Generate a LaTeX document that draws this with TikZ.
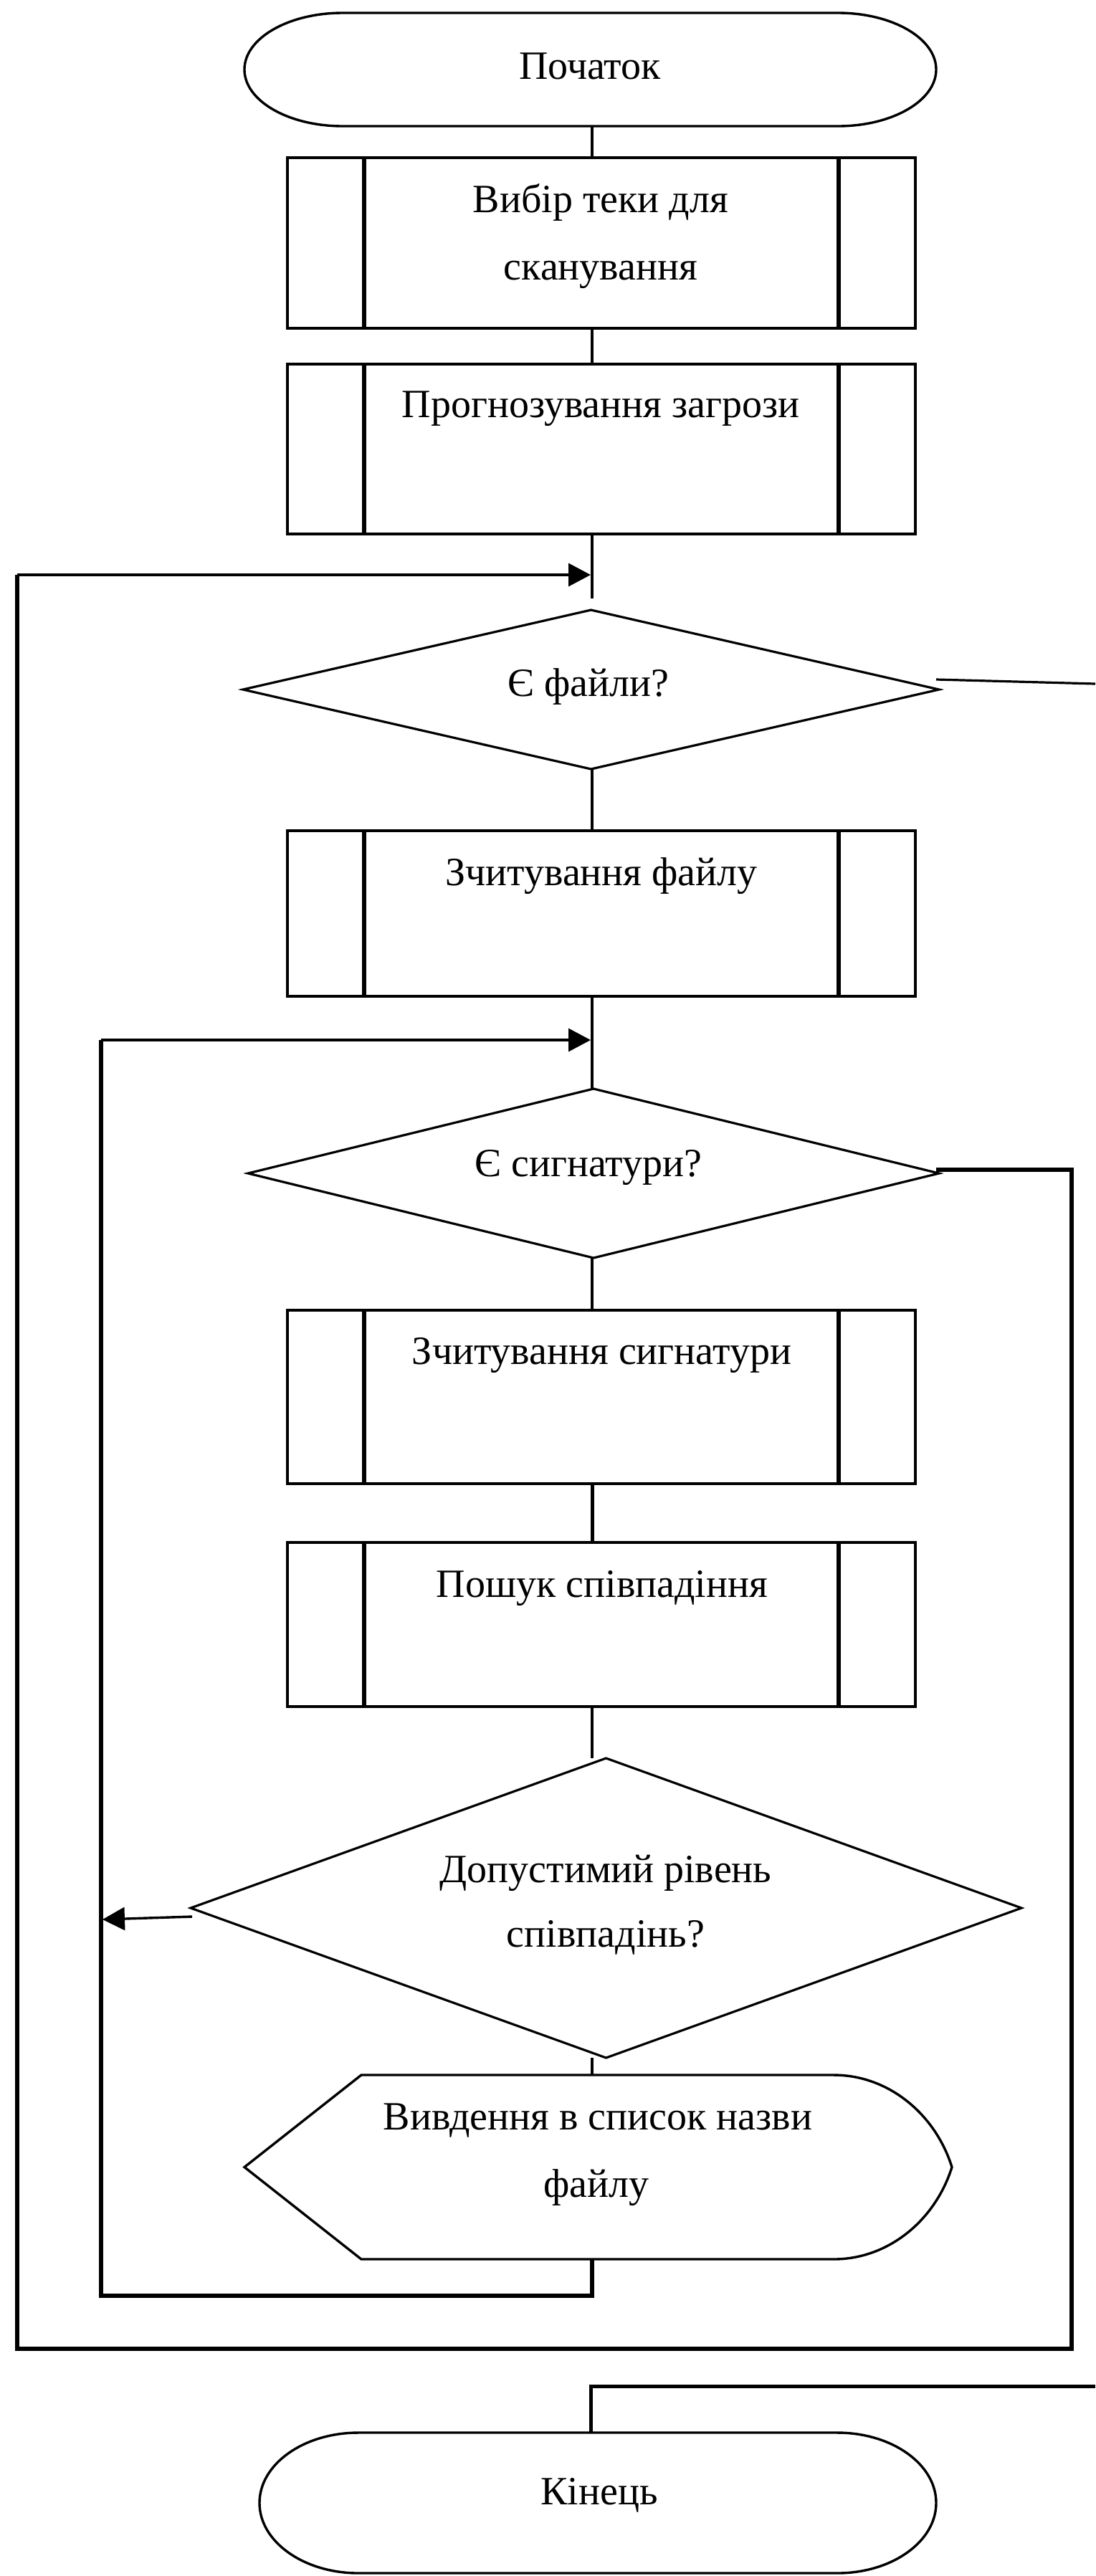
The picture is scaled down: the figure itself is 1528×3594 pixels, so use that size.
\documentclass[tikz,border=0pt]{standalone}
\usepackage{fontspec}
\setmainfont{Liberation Serif}
\usetikzlibrary{shapes.geometric,arrows.meta,calc}

\begin{document}
\begin{tikzpicture}[x=0.5pt,y=-0.5pt,
  every node/.style={inner sep=0pt, outer sep=0pt},
  lbl/.style={anchor=base, font=\fontsize{28}{32}\selectfont},
  procbox/.style={draw, line width=2.2pt, rectangle, minimum width=438pt,
    path picture={
      \draw[line width=2.6pt] ([xshift=53.5pt]path picture bounding box.north west) -- ([xshift=53.5pt]path picture bounding box.south west);
      \draw[line width=2.6pt] ([xshift=-53.5pt]path picture bounding box.north east) -- ([xshift=-53.5pt]path picture bounding box.south east);}},
  decision/.style={draw, diamond, line width=1.6pt},
  frame/.style={rectangle, draw=none},
  outline/.style={line width=1.7pt, line join=miter},
  flow/.style={line width=1.6pt},
  loopline/.style={line width=2.9pt, line join=miter},
  entry/.style={line width=1.7pt, -{Triangle[length=15.5pt,width=16pt]}},
]
\useasboundingbox (0,0) rectangle (1528,3594);

% start terminal
\node[frame, minimum width=482.5pt, minimum height=79pt] (start) at (823.5,97) {};
\draw[outline] ($(start.north west)+(137,0)$) -- ($(start.north east)+(-137,0)$)
  arc[start angle=90,end angle=-90,x radius=68.5pt,y radius=39.5pt]
  -- ($(start.south west)+(137,0)$)
  arc[start angle=270,end angle=90,x radius=68.5pt,y radius=39.5pt] -- cycle;
\node[lbl] (tstart) at (823,110) {Початок};

% process blocks and decisions
\node[procbox, minimum height=119pt] (b1) at (839,339) {};
\node[lbl] (t1a) at (838,296) {Вибір теки для};
\node[lbl] (t1b) at (838,390) {сканування};

\node[procbox, minimum height=118.5pt] (b2) at (839,626.5) {};
\node[lbl] (t2) at (838,582) {Прогнозування загрози};

\node[decision, minimum width=485.5pt, minimum height=111pt] (d1) at (824.5,962) {};
\node[lbl] (t3) at (821,971) {Є файли?};

\node[procbox, minimum height=115.5pt] (b3) at (839,1274.5) {};
\node[lbl] (t4) at (839,1235) {Зчитування файлу};

\node[decision, minimum width=482pt, minimum height=118pt] (d2) at (828,1637) {};
\node[lbl] (t5) at (821,1641) {Є сигнатури?};

\node[procbox, minimum height=121pt] (b4) at (839,1949) {};
\node[lbl] (t6) at (839.5,1903) {Зчитування сигнатури};

\node[procbox, minimum height=114.5pt] (b5) at (839,2266.5) {};
\node[lbl] (t7) at (840,2228) {Пошук співпадіння};

\node[decision, minimum width=579.5pt, minimum height=209pt] (d3) at (845.5,2662) {};
\node[lbl] (t8a) at (845,2626) {Допустимий рівень};
\node[lbl] (t8b) at (845,2716) {співпадінь?};

% display block
\node[frame, minimum width=493.5pt, minimum height=128.5pt] (out) at (834.5,3023.5) {};
\draw[outline] (out.west) -- ($(out.north west)+(163,0)$) -- ($(out.north east)+(-165,0)$)
  .. controls ($(out.north east)+(-88,0)$) and ($(out.north east)+(-23,55)$) .. (out.east)
  .. controls ($(out.south east)+(-23,-55)$) and ($(out.south east)+(-88,0)$) .. ($(out.south east)+(-165,0)$)
  -- ($(out.south west)+(163,0)$) -- cycle;
\node[lbl] (t9a) at (834,2971) {Вивдення в список назви};
\node[lbl] (t9b) at (832,3065) {файлу};

% end terminal
\node[frame, minimum width=472pt, minimum height=98pt] (end) at (834,3492) {};
\draw[outline] ($(end.north west)+(138,0)$) -- ($(end.north east)+(-138,0)$)
  arc[start angle=90,end angle=-90,x radius=69pt,y radius=49pt]
  -- ($(end.south west)+(138,0)$)
  arc[start angle=270,end angle=90,x radius=69pt,y radius=49pt] -- cycle;
\node[lbl] (t10) at (836,3494) {Кінець};

% main axis connectors
\coordinate (axis) at (826,0);
\draw[flow] (start.south -| axis) -- (b1.north -| axis);
\draw[flow] (b1.south -| axis) -- (b2.north -| axis);
\draw[flow, shorten >=8pt] (b2.south -| axis) -- (d1.north -| axis);
\draw[flow] (d1.south -| axis) -- (b3.north -| axis);
\draw[flow] (b3.south -| axis) -- (d2.north -| axis);
\draw[flow] (d2.south -| axis) -- (b4.north -| axis);
\draw[flow, line width=2.5pt] (b4.south -| axis) -- (b5.north -| axis);
\draw[flow] (b5.south -| axis) -- (d3.north -| axis);
\draw[flow] (d3.south -| axis) -- (out.north -| axis);

% outer loop: no more signatures -> next file
\coordinate (o1) at (1495,1632);
\coordinate (o2) at (1495,3277);
\coordinate (o3) at (24,3277);
\coordinate (o4) at (24,802);
\coordinate (j1) at (824,802);
\draw[loopline] ($(d2.east)+(-4,-5)$) -- (o1) -- (o2) -- (o3) -- (o4);
\draw[entry] (o4) -- (j1);

% inner loop: after output -> next signature
\coordinate (i1) at (826,3203);
\coordinate (i2) at (141,3203);
\coordinate (i3) at (141,1451);
\coordinate (j2) at (824,1451);
\draw[loopline] (out.south -| axis) -- (i1) -- (i2) -- (i3);
\draw[entry] (i3) -- (j2);

% match level not reached
\coordinate (i4) at (143,2678);
\draw[entry] ($(d3.west)+(2,12)$) -- (i4);

% no more files -> end
\coordinate (x1) at (1528,954);
\draw[flow] ($(d1.east)+(-4,-14)$) -- (x1);
\coordinate (x2) at (1528,3329);
\coordinate (e1) at (824,3329);
\draw[loopline, line width=2.5pt] (x2) -- (e1) -- (end.north -| e1);
\end{tikzpicture}
\end{document}
